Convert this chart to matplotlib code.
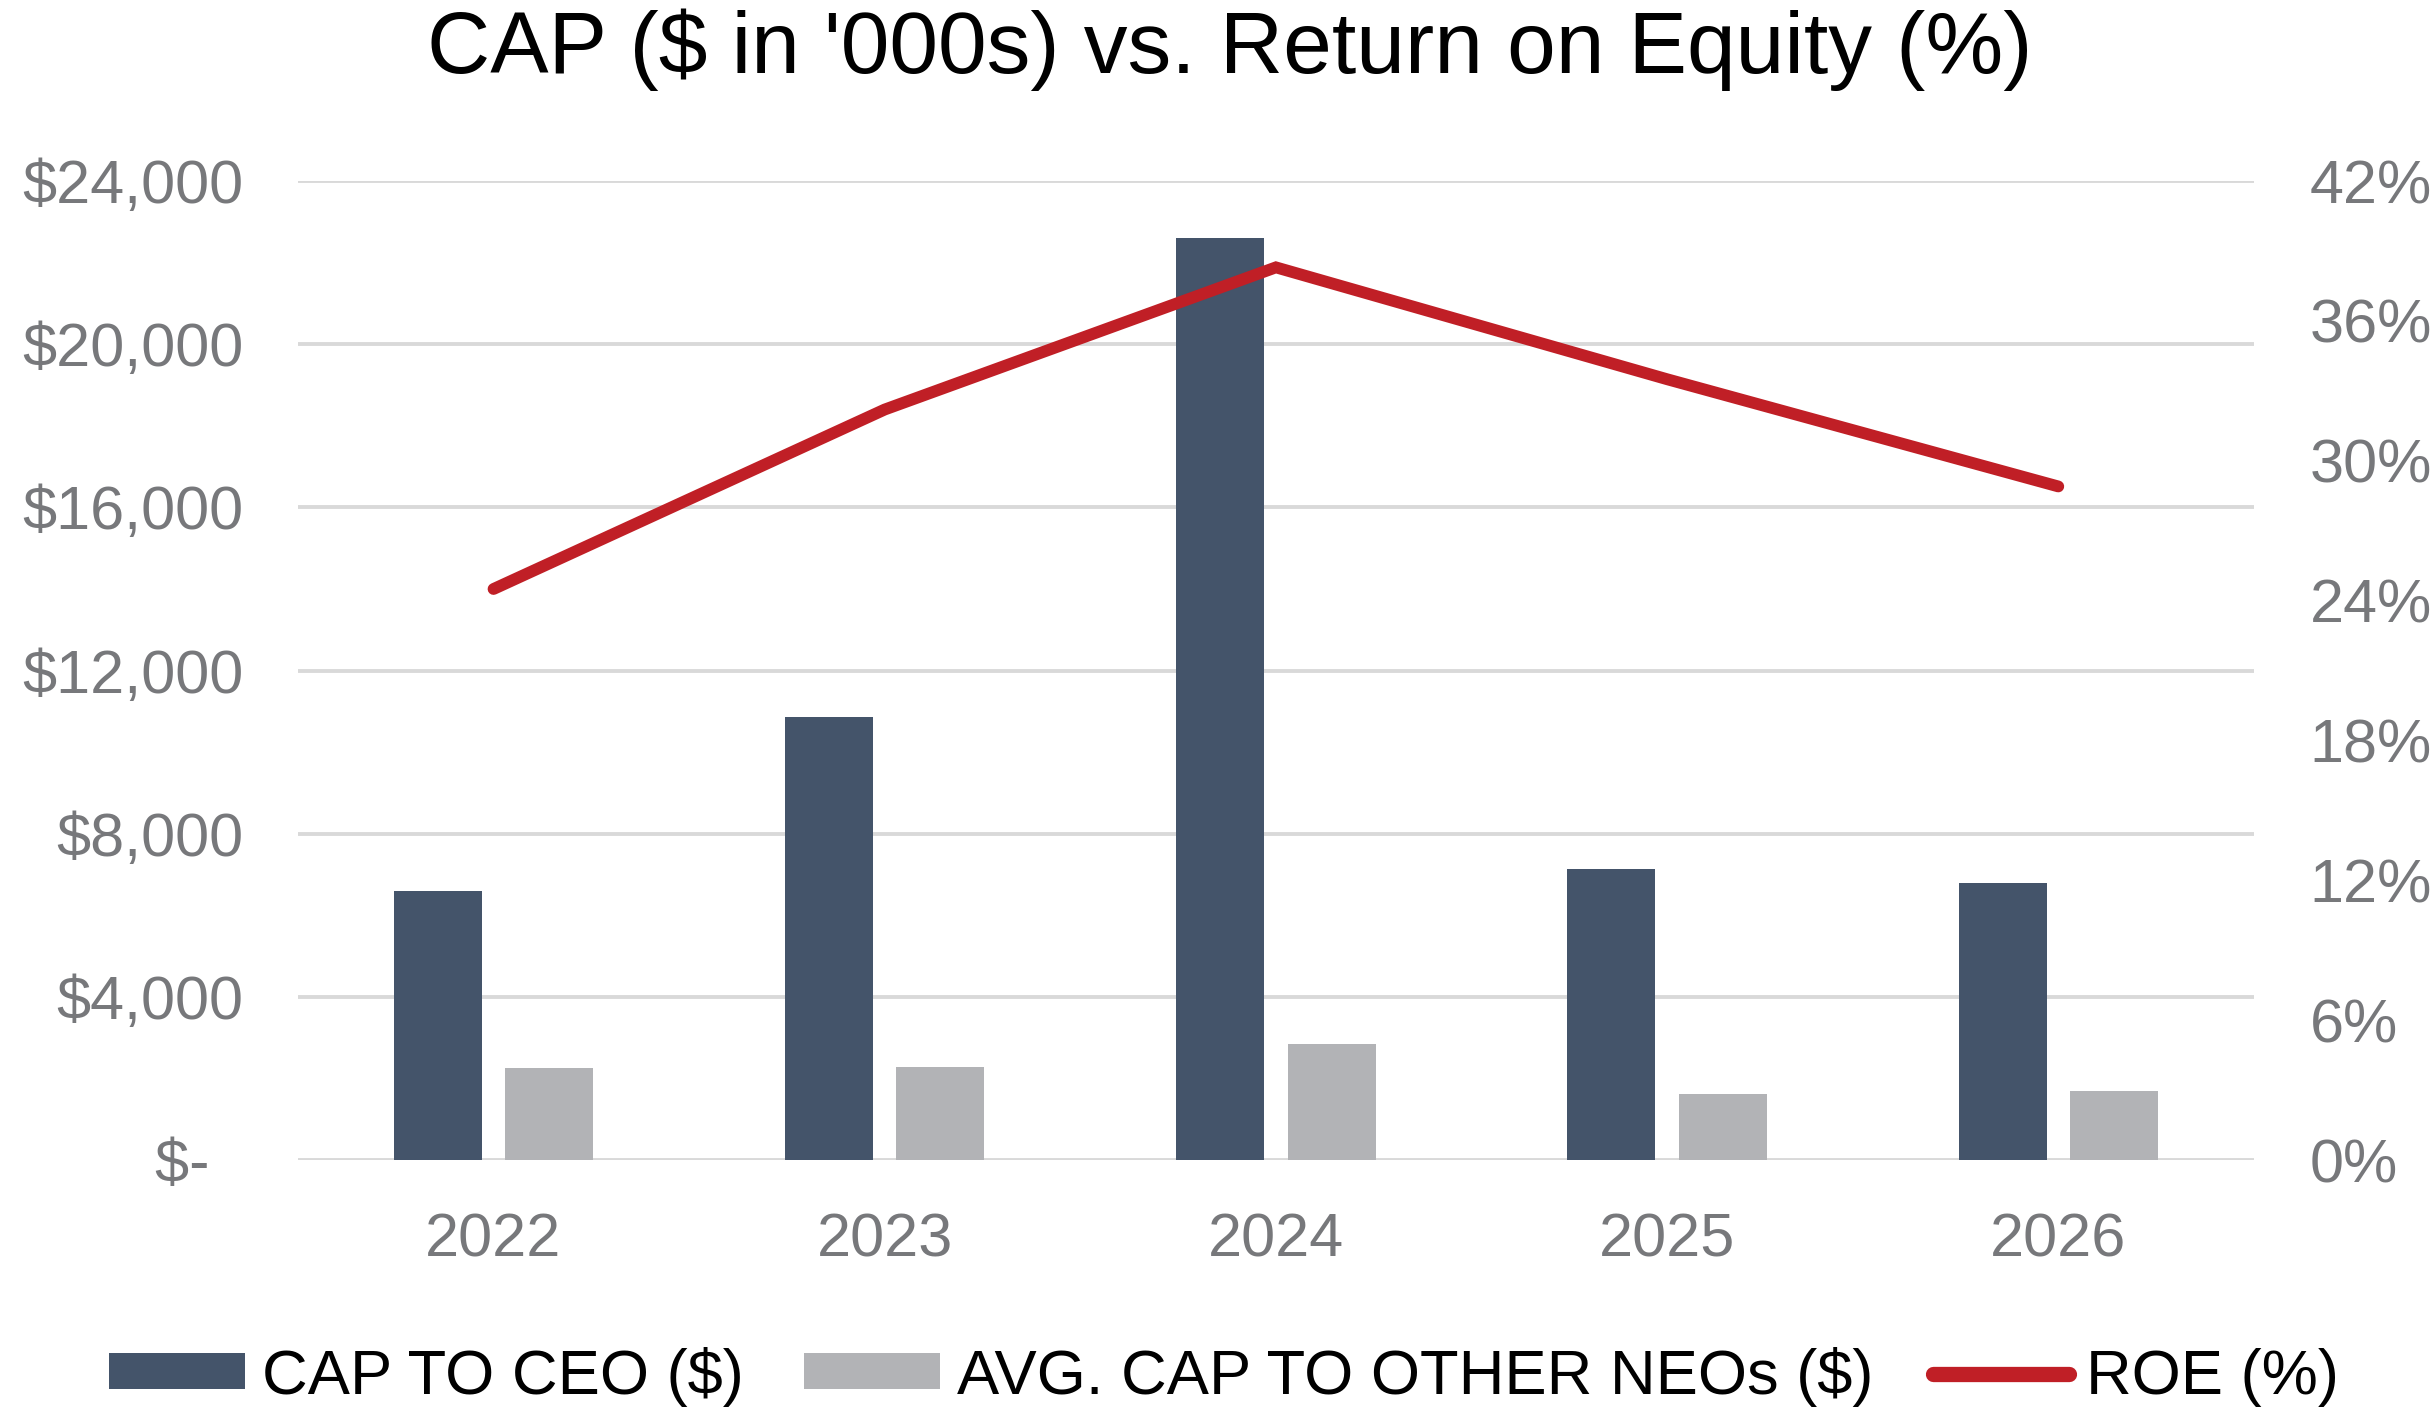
import numpy as np
import matplotlib
matplotlib.use('Agg')
import matplotlib.pyplot as plt
from matplotlib.ticker import FuncFormatter

# chart data
years = ['2022', '2023', '2024', '2025', '2026']
cap_ceo = [6590, 10870, 22600, 7140, 6800]
cap_neo = [2250, 2280, 2850, 1620, 1700]
roe = [24.5, 32.2, 38.3, 33.5, 28.9]

left_ticks = [0, 4000, 8000, 12000, 16000, 20000, 24000]
right_ticks = [0, 6, 12, 18, 24, 30, 36, 42]

ceo_color = '#44546A'
neo_color = '#B2B3B6'
roe_color = '#C01F26'
tick_color = '#77787B'
grid_color = '#D9D9D9'

matplotlib.rc('font', family=['Liberation Sans', 'DejaVu Sans'], size=44)

fig = plt.figure(figsize=(24.34, 14.15), dpi=100)
ax = fig.add_axes([0.1224, 0.1802, 0.926 - 0.1224, 0.872 - 0.1802])

x = np.arange(len(years))
w = 0.225
off = 0.1425

ax.bar(x - off, cap_ceo, width=w, color=ceo_color, label='CAP TO CEO ($)', zorder=3)
ax.bar(x + off, cap_neo, width=w, color=neo_color, label='AVG. CAP TO OTHER NEOs ($)', zorder=3)

ax.set_xlim(-0.5, len(years) - 0.5)
ax.set_ylim(0, 24000)
ax.set_yticks(left_ticks)


def dollars(v, pos):
    if v == 0:
        return '$-  '
    return '${:,.0f}'.format(v)


ax.yaxis.set_major_formatter(FuncFormatter(dollars))
ax.set_xticks(x)
ax.set_xticklabels(years)
ax.grid(axis='y', color=grid_color, linewidth=2.8, zorder=0)
ax.set_axisbelow(True)
for s in ax.spines.values():
    s.set_visible(False)
ax.tick_params(axis='y', length=0, pad=39, colors=tick_color, labelsize=44)
ax.tick_params(axis='x', length=0, pad=38, colors=tick_color, labelsize=44)

# secondary axis for ROE
ax2 = ax.twinx()
ax2.plot(x, roe, color=roe_color, linewidth=8.5, solid_capstyle='round',
         solid_joinstyle='miter', label='ROE (%)', zorder=4)
ax2.set_ylim(0, 42)
ax2.set_yticks(right_ticks)
ax2.yaxis.set_major_formatter(FuncFormatter(lambda v, p: '{:.0f}%'.format(v)))
for s in ax2.spines.values():
    s.set_visible(False)
ax2.tick_params(axis='y', length=0, pad=40, colors=tick_color, labelsize=44)

fig.text(0.5053, 0.965, "CAP ($ in '000s) vs. Return on Equity (%)",
         ha='center', va='center', fontsize=63, color='black')

h1, l1 = ax.get_legend_handles_labels()
h2, l2 = ax2.get_legend_handles_labels()
leg = fig.legend(h1 + h2, l1 + l2, loc='center', bbox_to_anchor=(0.503, 0.027),
                 ncol=3, frameon=False, fontsize=45.5, handlelength=2.15,
                 handleheight=0.5, handletextpad=0.27, columnspacing=0.95)
leg.get_lines()[0].set_linewidth(11)

plt.savefig('out.png', dpi=100)
